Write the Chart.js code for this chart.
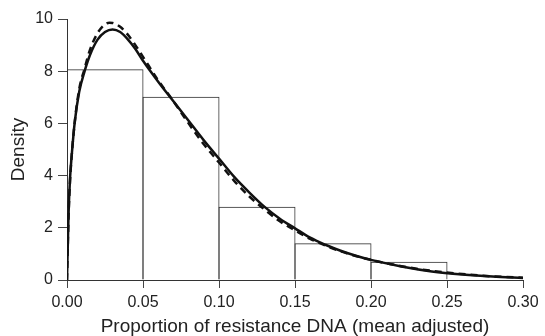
<!DOCTYPE html>
<html>
<head>
<meta charset="utf-8">
<script src="https://cdn.jsdelivr.net/npm/chart.js@4"></script>
<style>
  html, body { margin: 0; padding: 0; background: #fff; }
  #wrap { width: 545px; height: 336px; }
</style>
</head>
<body>
<div id="wrap"><canvas id="chart" width="545" height="336"></canvas></div>
<script>
// Histogramm (Klassenmitte, Dichte)
const binCenters = [0.025, 0.075, 0.125, 0.175, 0.225];
const binDensity = [8.07, 7.02, 2.81, 1.41, 0.70];

// durchgezogene Kurve
const solidX = [0, 0.001, 0.002, 0.003, 0.005, 0.008, 0.0116, 0.015, 0.02, 0.025, 0.03, 0.035, 0.04, 0.045, 0.05, 0.06, 0.07, 0.08, 0.09, 0.10, 0.11, 0.12, 0.13, 0.14, 0.15, 0.16, 0.17, 0.18, 0.19, 0.20, 0.22, 0.24, 0.26, 0.28, 0.30];
const solidY = [0, 2.5, 3.9, 4.7, 6.0, 7.2, 8.0, 8.6, 9.2, 9.5, 9.6, 9.5, 9.22, 8.85, 8.4, 7.6, 6.85, 6.1, 5.35, 4.65, 3.95, 3.35, 2.8, 2.35, 1.98, 1.62, 1.35, 1.12, 0.93, 0.77, 0.52, 0.33, 0.21, 0.13, 0.08];

// gestrichelte Kurve
const dashX = [0, 0.001, 0.002, 0.003, 0.005, 0.008, 0.0116, 0.015, 0.02, 0.025, 0.028, 0.03, 0.035, 0.04, 0.045, 0.05, 0.06, 0.07, 0.08, 0.09, 0.10, 0.11, 0.12, 0.13, 0.14, 0.15, 0.16, 0.17, 0.18, 0.19, 0.20, 0.22, 0.24, 0.26, 0.28, 0.30];
const dashY = [0, 2.4, 3.8, 4.7, 6.0, 7.3, 8.1, 8.8, 9.45, 9.8, 9.86, 9.85, 9.7, 9.4, 9.0, 8.55, 7.65, 6.85, 6.0, 5.2, 4.5, 3.8, 3.2, 2.7, 2.25, 1.9, 1.58, 1.32, 1.1, 0.92, 0.77, 0.53, 0.35, 0.23, 0.14, 0.09];

const xTicks = [0, 0.05, 0.10, 0.15, 0.20, 0.25, 0.30];
const yTicks = [0, 2, 4, 6, 8, 10];

const pts = (xs, ys) => xs.map((x, i) => ({ x: x, y: ys[i] }));

Chart.defaults.font.family = '"Liberation Sans", Arial, sans-serif';
Chart.defaults.color = '#222';

new Chart(document.getElementById('chart').getContext('2d'), {
    data: {
        datasets: [
            {
                type: 'line',
                data: pts(solidX, solidY),
                borderColor: '#111',
                borderWidth: 2.5,
                pointRadius: 0,
                cubicInterpolationMode: 'monotone',
                order: 1
            },
            {
                type: 'line',
                data: pts(dashX, dashY),
                borderColor: '#111',
                borderWidth: 2.5,
                borderDash: [7, 5],
                pointRadius: 0,
                cubicInterpolationMode: 'monotone',
                order: 2
            },
            {
                type: 'bar',
                data: pts(binCenters, binDensity),
                backgroundColor: 'rgba(255,255,255,0)',
                borderColor: '#333',
                borderWidth: 1,
                borderSkipped: 'bottom',
                // 1px breiter, damit sich die Nachbarkanten decken statt doppelt zu sein
                barPercentage: 77 / 76,
                categoryPercentage: 1,
                order: 3
            }
        ]
    },
    options: {
        responsive: false,
        animation: false,
        layout: { padding: { top: 19, right: 22, left: 0, bottom: 0 } },
        plugins: { legend: { display: false }, tooltip: { enabled: false } },
        scales: {
            x: {
                type: 'linear',
                min: 0,
                max: 0.30,
                offset: false,
                afterBuildTicks: s => { s.ticks = xTicks.map(v => ({ value: v })); },
                afterFit: s => { s.height = 56; },
                ticks: {
                    font: { size: 16 },
                    padding: 5,
                    maxRotation: 0,
                    autoSkip: false,
                    callback: v => v.toFixed(2)
                },
                grid: { offset: false, drawOnChartArea: false, drawTicks: true, tickLength: 8, color: '#444' },
                border: { display: true, color: '#333', width: 1 },
                title: {
                    display: true,
                    text: 'Proportion of resistance DNA (mean adjusted)',
                    font: { size: 19, lineHeight: 1 },
                    padding: { top: 0, bottom: 0 }
                }
            },
            y: {
                min: 0,
                max: 10,
                afterBuildTicks: s => { s.ticks = yTicks.map(v => ({ value: v })); },
                afterFit: s => { s.width = 67; },
                ticks: { font: { size: 16 }, padding: 5 },
                grid: { drawOnChartArea: false, drawTicks: true, tickLength: 9, color: '#444' },
                border: { display: true, color: '#333', width: 1 },
                title: {
                    display: true,
                    text: 'Density',
                    font: { size: 19, lineHeight: 1 },
                    padding: { top: 9, bottom: 0 }
                }
            }
        }
    }
});
</script>
</body>
</html>
